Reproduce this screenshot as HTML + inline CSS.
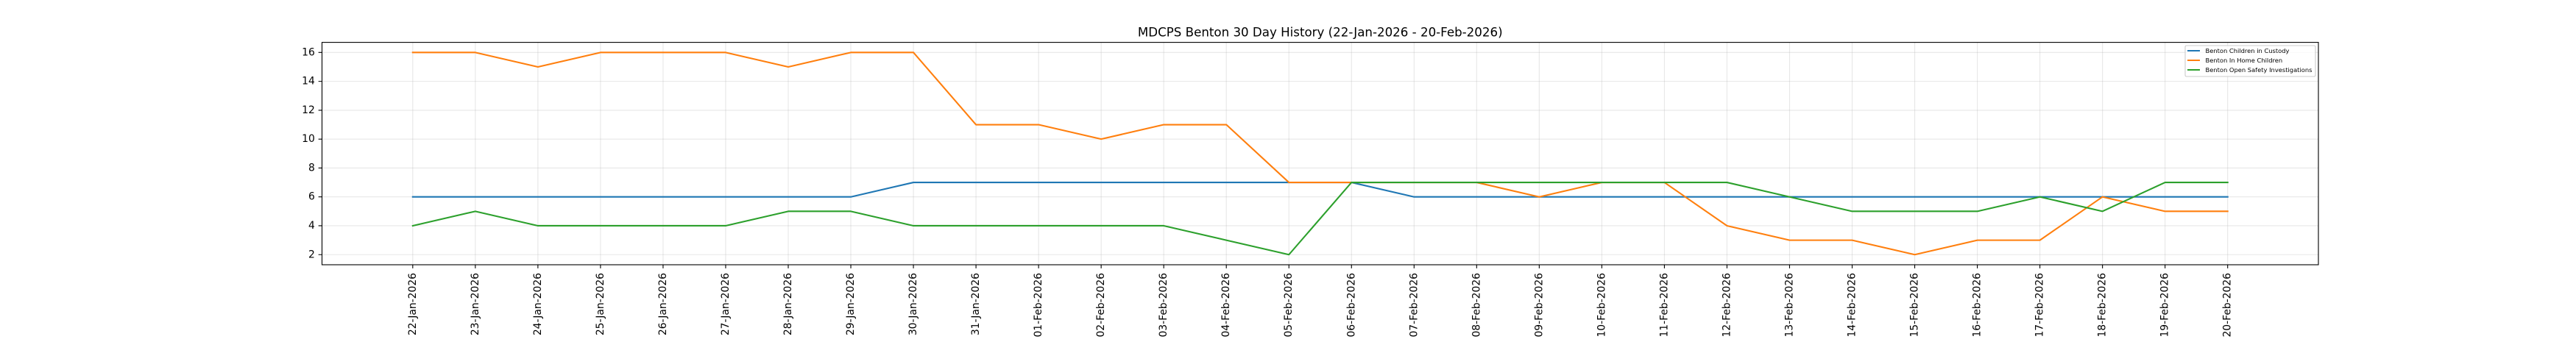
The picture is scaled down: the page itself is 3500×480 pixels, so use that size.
<!DOCTYPE html>
<html>
<head>
<meta charset="utf-8">
<style>
html,body{margin:0;padding:0;background:#fff;}
svg{display:block;}
text{font-family:"DejaVu Sans","Liberation Sans",sans-serif;fill:#000;}
</style>
</head>
<body>
<svg width="3500" height="480" viewBox="0 0 3500 480" xmlns="http://www.w3.org/2000/svg">
<rect x="0" y="0" width="3500" height="480" fill="#fff"/>
<rect x="437.5" y="57.6" width="2712.5" height="302.4" fill="#fff"/>

<!-- grid -->
<g stroke="#b0b0b0" stroke-opacity="0.3" stroke-width="1.1" fill="none">
<path d="M560.80 57.6V360M645.83 57.6V360M730.86 57.6V360M815.89 57.6V360M900.93 57.6V360M985.96 57.6V360M1070.99 57.6V360M1156.02 57.6V360M1241.05 57.6V360M1326.08 57.6V360M1411.11 57.6V360M1496.14 57.6V360M1581.17 57.6V360M1666.20 57.6V360M1751.24 57.6V360M1836.27 57.6V360M1921.30 57.6V360M2006.33 57.6V360M2091.36 57.6V360M2176.39 57.6V360M2261.42 57.6V360M2346.45 57.6V360M2431.48 57.6V360M2516.51 57.6V360M2601.54 57.6V360M2686.58 57.6V360M2771.61 57.6V360M2856.64 57.6V360M2941.67 57.6V360M3026.70 57.6V360"/>
<path d="M437.5 346.25H3150M437.5 306.98H3150M437.5 267.71H3150M437.5 228.44H3150M437.5 189.16H3150M437.5 149.89H3150M437.5 110.62H3150M437.5 71.35H3150"/>
</g>

<!-- series -->
<g transform="translate(560.80,346.25) scale(85.0313,-19.63636)" fill="none" stroke-width="2.08" stroke-linejoin="round" stroke-linecap="square">
<polyline vector-effect="non-scaling-stroke" stroke="#1f77b4" points="0,4 1,4 2,4 3,4 4,4 5,4 6,4 7,4 8,5 9,5 10,5 11,5 12,5 13,5 14,5 15,5 16,4 17,4 18,4 19,4 20,4 21,4 22,4 23,4 24,4 25,4 26,4 27,4 28,4 29,4"/>
<polyline vector-effect="non-scaling-stroke" stroke="#ff7f0e" points="0,14 1,14 2,13 3,14 4,14 5,14 6,13 7,14 8,14 9,9 10,9 11,8 12,9 13,9 14,5 15,5 16,5 17,5 18,4 19,5 20,5 21,2 22,1 23,1 24,0 25,1 26,1 27,4 28,3 29,3"/>
<polyline vector-effect="non-scaling-stroke" stroke="#2ca02c" points="0,2 1,3 2,2 3,2 4,2 5,2 6,3 7,3 8,2 9,2 10,2 11,2 12,2 13,1 14,0 15,5 16,5 17,5 18,5 19,5 20,5 21,5 22,4 23,3 24,3 25,3 26,4 27,3 28,5 29,5"/>
</g>

<!-- spines -->
<rect x="437.5" y="57.6" width="2712.5" height="302.4" fill="none" stroke="#000" stroke-width="1.11"/>

<!-- ticks -->
<g stroke="#000" stroke-width="1.11">
<path d="M560.80 360v4.86M645.83 360v4.86M730.86 360v4.86M815.89 360v4.86M900.93 360v4.86M985.96 360v4.86M1070.99 360v4.86M1156.02 360v4.86M1241.05 360v4.86M1326.08 360v4.86M1411.11 360v4.86M1496.14 360v4.86M1581.17 360v4.86M1666.20 360v4.86M1751.24 360v4.86M1836.27 360v4.86M1921.30 360v4.86M2006.33 360v4.86M2091.36 360v4.86M2176.39 360v4.86M2261.42 360v4.86M2346.45 360v4.86M2431.48 360v4.86M2516.51 360v4.86M2601.54 360v4.86M2686.58 360v4.86M2771.61 360v4.86M2856.64 360v4.86M2941.67 360v4.86M3026.70 360v4.86"/>
<path d="M437.5 346.25h-4.86M437.5 306.98h-4.86M437.5 267.71h-4.86M437.5 228.44h-4.86M437.5 189.16h-4.86M437.5 149.89h-4.86M437.5 110.62h-4.86M437.5 71.35h-4.86"/>
</g>

<!-- y labels -->
<g font-size="13.89" text-anchor="end" dominant-baseline="central">
<text x="427.8" y="346.25">2</text>
<text x="427.8" y="306.98">4</text>
<text x="427.8" y="267.71">6</text>
<text x="427.8" y="228.44">8</text>
<text x="427.8" y="189.16">10</text>
<text x="427.8" y="149.89">12</text>
<text x="427.8" y="110.62">14</text>
<text x="427.8" y="71.35">16</text>
</g>

<!-- x labels -->
<g font-size="13.89" text-anchor="end" dominant-baseline="central">
<text transform="translate(560.80,371) rotate(-90)">22-Jan-2026</text>
<text transform="translate(645.83,371) rotate(-90)">23-Jan-2026</text>
<text transform="translate(730.86,371) rotate(-90)">24-Jan-2026</text>
<text transform="translate(815.89,371) rotate(-90)">25-Jan-2026</text>
<text transform="translate(900.93,371) rotate(-90)">26-Jan-2026</text>
<text transform="translate(985.96,371) rotate(-90)">27-Jan-2026</text>
<text transform="translate(1070.99,371) rotate(-90)">28-Jan-2026</text>
<text transform="translate(1156.02,371) rotate(-90)">29-Jan-2026</text>
<text transform="translate(1241.05,371) rotate(-90)">30-Jan-2026</text>
<text transform="translate(1326.08,371) rotate(-90)">31-Jan-2026</text>
<text transform="translate(1411.11,371) rotate(-90)">01-Feb-2026</text>
<text transform="translate(1496.14,371) rotate(-90)">02-Feb-2026</text>
<text transform="translate(1581.17,371) rotate(-90)">03-Feb-2026</text>
<text transform="translate(1666.20,371) rotate(-90)">04-Feb-2026</text>
<text transform="translate(1751.24,371) rotate(-90)">05-Feb-2026</text>
<text transform="translate(1836.27,371) rotate(-90)">06-Feb-2026</text>
<text transform="translate(1921.30,371) rotate(-90)">07-Feb-2026</text>
<text transform="translate(2006.33,371) rotate(-90)">08-Feb-2026</text>
<text transform="translate(2091.36,371) rotate(-90)">09-Feb-2026</text>
<text transform="translate(2176.39,371) rotate(-90)">10-Feb-2026</text>
<text transform="translate(2261.42,371) rotate(-90)">11-Feb-2026</text>
<text transform="translate(2346.45,371) rotate(-90)">12-Feb-2026</text>
<text transform="translate(2431.48,371) rotate(-90)">13-Feb-2026</text>
<text transform="translate(2516.51,371) rotate(-90)">14-Feb-2026</text>
<text transform="translate(2601.54,371) rotate(-90)">15-Feb-2026</text>
<text transform="translate(2686.58,371) rotate(-90)">16-Feb-2026</text>
<text transform="translate(2771.61,371) rotate(-90)">17-Feb-2026</text>
<text transform="translate(2856.64,371) rotate(-90)">18-Feb-2026</text>
<text transform="translate(2941.67,371) rotate(-90)">19-Feb-2026</text>
<text transform="translate(3026.70,371) rotate(-90)">20-Feb-2026</text>
</g>

<!-- title -->
<text x="1793.75" y="49.3" font-size="16.67" text-anchor="middle">MDCPS Benton 30 Day History (22-Jan-2026 - 20-Feb-2026)</text>

<!-- legend -->
<rect x="2969" y="62" width="177" height="42" rx="1.7" ry="1.7" fill="#fff" fill-opacity="0.8" stroke="#cccccc" stroke-width="1.1"/>
<g stroke-width="2.08">
<line x1="2972" y1="69" x2="2989" y2="69" stroke="#1f77b4"/>
<line x1="2972" y1="82" x2="2989" y2="82" stroke="#ff7f0e"/>
<line x1="2972" y1="95" x2="2989" y2="95" stroke="#2ca02c"/>
</g>
<g font-size="8.33" dominant-baseline="central">
<text x="2996.5" y="69">Benton Children in Custody</text>
<text x="2996.5" y="82">Benton In Home Children</text>
<text x="2996.5" y="95">Benton Open Safety Investigations</text>
</g>
</svg>
</body>
</html>
